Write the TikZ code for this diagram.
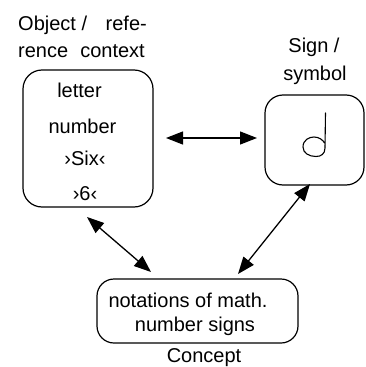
\documentclass[tikz,border=0pt]{standalone}
\usepackage{fontspec}
\setmainfont{Liberation Sans}
\usetikzlibrary{arrows.meta}
\begin{document}
\begin{tikzpicture}[x=1pt,y=-1pt,
  every node/.style={font=\fontsize{20}{24}\selectfont, inner sep=0pt},
  box/.style={draw, line width=1.2pt, rounded corners=#1},
  lbl/.style={anchor=base},
  conn/.style={line width=1.3pt, {Triangle[length=17pt,width=13pt]}-{Triangle[length=17pt,width=13pt]}}
]
\useasboundingbox (0,0) rectangle (365,367);
% boxes
\node[box=19pt, minimum width=130pt, minimum height=137pt] (obj) at (88,138.5) {};
\node[box=18pt, minimum width=99pt, minimum height=90pt] (sign) at (314.5,140) {};
\node[box=17pt, minimum width=201pt, minimum height=64pt] (con) at (197.5,311) {};
% headings
\node[lbl, anchor=base west] (t1a) at (18,30) {Object /};
\node[lbl, anchor=base east] (t1b) at (147,30) {refe-};
\node[lbl, anchor=base west] (t2a) at (18,57) {rence};
\node[lbl, anchor=base east] (t2b) at (145,57) {context};
\node[lbl] (s1) at (314,52) {Sign /};
\node[lbl] (s2) at (315,80) {symbol};
\node[lbl] (c1) at (204,362) {Concept};
% object texts
\node[lbl] (o1) at (79.5,97) {letter};
\node[lbl] (o2) at (82.5,133) {number};
\node[lbl] (o3) at (85,165) {›Six‹};
\node[lbl] (o4) at (85,200) {›6‹};
% concept texts
\node[lbl] (n1) at (188,307) {notations of math.};
\node[lbl] (n2) at (195,331) {number signs};
% symbol glyph
\draw[line width=1.1pt, line cap=round, line join=round]
  (325.5,113) -- (325,148) .. controls (325,154) and (321,156.5) .. (316,156.5)
  .. controls (309,156.5) and (303,153) .. (303,147)
  .. controls (303,140) and (309,137) .. (314,137)
  .. controls (319,137) and (323,140) .. (324.5,143);
% connector end points
\coordinate (h1) at (166,138);
\coordinate (h2) at (257,138);
\coordinate (d1) at (87,217);
\coordinate (d2) at (151,272);
\coordinate (e1) at (310,184);
\coordinate (e2) at (238,274);
\draw[conn] (h1) -- (h2);
\draw[conn] (d1) -- (d2);
\draw[conn] (e1) -- (e2);
\end{tikzpicture}
\end{document}
